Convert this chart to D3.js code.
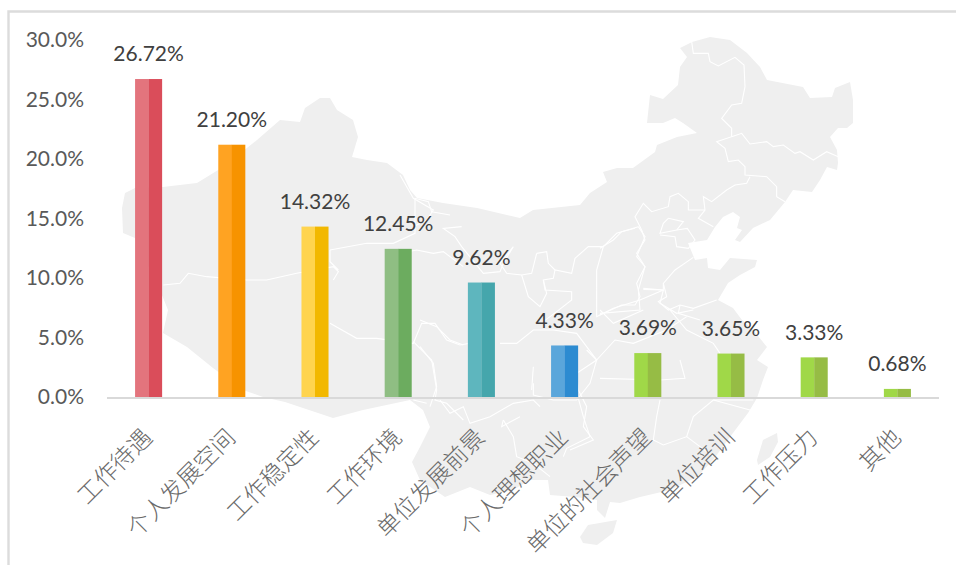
<!DOCTYPE html>
<html><head><meta charset="utf-8">
<script src="https://cdn.jsdelivr.net/npm/d3@7/dist/d3.min.js"></script>
<style>html,body{margin:0;padding:0;background:#fff}svg{display:block}</style></head>
<body><svg id="c" width="956" height="565"></svg>
<script>
const categories=["工作待遇","个人发展空间","工作稳定性","工作环境","单位发展前景","个人理想职业","单位的社会声望","单位培训","工作压力","其他"];
const values=[26.72,21.20,14.32,12.45,9.62,4.33,3.69,3.65,3.33,0.68];
const lightColors=["#E3747D","#FFA322","#FFD44F","#8FBE83","#5EB6BE","#5AA6DB","#A0D848","#A0D848","#A0D848","#A0D848"];
const darkColors=["#DA4D5A","#F79300","#F2B800","#6CAC5F","#45A6AC","#2C8BD1","#96BC45","#96BC45","#96BC45","#96BC45"];
const yTicks=[0,5,10,15,20,25,30];

// decorative backdrop: hand-traced outline of the map, in picture pixels
const mapMainland=[[122,208],[125,193],[135,188],[163,187],[197,183],[223,167],[257,140],[280,120],[300,122],[305,108],[320,98],[330,98],[337,110],[353,120],[358,137],[352,157],[367,160],[387,163],[403,175],[410,190],[417,198],[443,203],[477,208],[520,218],[533,210],[580,205],[590,193],[607,182],[603,172],[617,168],[633,168],[655,152],[657,145],[677,137],[697,133],[683,123],[675,118],[663,123],[647,123],[650,95],[663,99],[678,85],[680,67],[687,57],[680,48],[692,42],[710,37],[730,40],[747,53],[760,67],[767,80],[803,87],[810,98],[832,97],[835,88],[850,82],[853,100],[853,123],[847,128],[838,128],[830,137],[837,150],[838,163],[837,170],[827,167],[820,180],[812,192],[793,190],[785,202],[770,220],[753,228],[740,242],[735,240],[742,230],[737,228],[740,217],[733,212],[723,217],[715,227],[707,240],[688,243],[695,260],[707,258],[708,268],[720,270],[730,258],[757,260],[755,267],[740,275],[728,283],[718,300],[733,308],[742,320],[753,330],[767,347],[757,360],[768,367],[763,380],[757,398],[748,413],[733,433],[713,460],[697,477],[670,490],[640,497],[620,503],[610,502],[605,518],[597,510],[597,500],[575,497],[550,495],[548,480],[530,480],[513,490],[490,495],[470,487],[445,497],[420,480],[412,462],[420,447],[430,427],[423,410],[410,400],[363,410],[333,418],[285,402],[263,397],[243,390],[213,368],[187,347],[163,333],[168,310],[160,290],[150,270],[135,238],[123,233]];
const mapHainan=[[580,537],[588,525],[617,520],[613,533],[597,545],[583,543]];
const mapTaiwan=[[757,460],[763,440],[777,433],[778,442],[770,457],[758,465]];
const borderSets=[
 {o:[600,20],lines:[
  [[275,65],[280,100],[325,100],[330,125],[355,138],[405,112],[432,135],[435,200],[425,250],[395,255],[365,295],[395,325],[395,350],[350,365],[375,385],[385,425],[415,420],[435,440],[435,465],[500,470],[530,500],[530,530],[555,545]],
  [[395,350],[425,340],[450,372],[500,365],[520,380],[550,375],[585,400],[600,395],[640,420],[680,395],[715,410]],
  [[450,470],[440,490],[405,495],[380,510],[335,545],[310,530],[315,570],[295,595],[340,620]],
  [[315,570],[265,570],[265,545],[235,520],[210,530],[205,560],[155,575],[130,550],[105,590],[125,630]],
  [[105,625],[65,635],[40,660],[0,685]],
  [[125,630],[135,660],[110,700],[135,740],[110,790],[120,830],[105,855],[65,855],[0,885]],
  [[205,595],[250,605],[230,630],[180,640],[190,610],[205,595]],
  [[230,630],[262,625],[285,660],[265,685],[230,680],[225,650],[180,645]],
  [[280,712],[225,750],[190,790],[190,810],[130,808]],
  [[190,790],[200,830],[175,845],[205,870],[240,855],[280,865],[350,840]],
  [[240,855],[235,880],[300,900]]
 ]},
 {o:[400,130],lines:[
  [[715,290],[650,310],[610,350],[565,350],[525,385],[515,430],[465,420],[460,445],[430,450],[435,480],[515,485],[515,510],[470,545],[430,575]],
  [[0,135],[40,205],[100,240],[80,270],[40,290]],
  [[185,290],[130,295],[165,320],[185,350],[250,430],[300,425],[310,400],[340,350],[300,400],[320,430],[365,435],[385,500],[420,530],[440,490],[430,450]],
  [[410,370],[440,365],[445,400],[465,420]],
  [[410,370],[395,430],[365,435]],
  [[610,350],[590,420],[590,560],[640,535],[720,510],[790,480],[730,475]],
  [[715,290],[735,320],[710,380],[735,410],[715,480],[720,540],[600,550]],
  [[790,480],[780,520],[830,550],[880,540]],
  [[0,370],[50,360],[100,370],[130,365],[190,410]]
 ]},
 {o:[100,80],lines:[
  [[190,615],[240,610],[265,580],[320,590],[440,600],[500,600],[590,580],[700,560],[715,575],[700,600]],
  [[690,510],[800,490],[880,490],[945,460],[945,355],[985,365],[995,395],[1050,405]],
  [[690,510],[690,545],[715,570]]
 ]},
 {o:[130,280],lines:[
  [[600,130],[680,175],[740,175],[850,190],[875,130],[915,130],[950,180],[990,195],[1050,185]],
  [[850,185],[905,240],[920,330],[915,360],[950,370],[1000,420]],
  [[850,360],[890,370]]
 ]},
 {o:[420,320],lines:[
  [[0,0],[50,20],[90,60],[130,75]],
  [[0,80],[40,130],[50,200],[30,260]],
  [[60,240],[90,280],[130,260],[150,310],[210,290],[280,250],[340,240],[360,260]],
  [[250,300],[280,350],[290,410],[340,430],[390,470]],
  [[340,190],[340,225],[400,240],[470,240],[510,190],[530,120],[500,90]],
  [[250,300],[245,320],[300,290]],
  [[475,235],[490,290],[510,350],[440,385],[430,410]]
 ]},
 {o:[500,310],lines:[
  [[0,100],[50,100],[100,60],[160,60],[230,70],[290,150],[230,190],[235,240],[260,290],[250,350],[280,390],[210,420]],
  [[290,150],[345,90],[400,100],[500,60],[560,20]],
  [[540,150],[555,205],[480,210],[300,205]],
  [[480,270],[470,320],[460,390],[490,405],[560,380],[580,320],[640,270],[760,270]],
  [[560,380],[640,440]],
  [[300,0],[340,40],[430,0]],
  [[510,0],[560,60],[640,100],[660,130]],
  [[100,170],[95,240]],
  [[640,270],[750,300]]
 ]}
];

const W=956,H=565,x0=107,x1=939,yZero=397,yTop=40;
const svg=d3.select("#c");
const x=d3.scaleBand().domain(categories).range([x0,x1]).paddingInner(0.675).paddingOuter(0.3375);
const y=d3.scaleLinear().domain([0,30]).range([yZero,yTop]);
const latin='Lato,"Open Sans",sans-serif';
const cjk='"Noto Sans CJK SC",sans-serif';

// chart frame
svg.append("path").attr("d",`M8.5,${H}V11.5H${W}`).attr("fill","none").attr("stroke","#DCDCDC").attr("stroke-width",2.4);

// backdrop map
const mapLine=d3.line().curve(d3.curveLinear);
const map=svg.append("g");
[mapMainland,mapHainan,mapTaiwan].forEach(p=>map.append("path").attr("d",mapLine(p)+"Z").attr("fill","#EFEFEF"));
borderSets.forEach(s=>{
  const g=map.append("g").attr("transform",`translate(${s.o[0]},${s.o[1]}) scale(${1/3})`);
  s.lines.forEach(l=>g.append("path").attr("d",mapLine(l)).attr("fill","none").attr("stroke","#fff").attr("stroke-width",3.3));
});

// bars: each one is a light left half and a dark right half
const bars=svg.append("g").selectAll("g").data(categories).join("g");
bars.append("rect").attr("x",d=>x(d)).attr("width",x.bandwidth()/2+0.2)
  .attr("y",(d,i)=>y(values[i])).attr("height",(d,i)=>yZero-y(values[i])).attr("fill",(d,i)=>lightColors[i]);
bars.append("rect").attr("x",d=>x(d)+x.bandwidth()/2).attr("width",x.bandwidth()/2)
  .attr("y",(d,i)=>y(values[i])).attr("height",(d,i)=>yZero-y(values[i])).attr("fill",(d,i)=>darkColors[i]);

// data labels
svg.append("g").selectAll("text").data(values).join("text")
  .attr("x",(d,i)=>x(categories[i])+x.bandwidth()/2).attr("y",d=>y(d)-25).attr("dy","0.35em")
  .attr("text-anchor","middle").attr("font-family",latin).attr("font-size",21).attr("fill","#404040")
  .text(d=>d.toFixed(2)+"%");

// y axis
const yAxis=d3.axisLeft(y).tickValues(yTicks).tickSize(0).tickPadding(0).tickFormat(d=>d.toFixed(1)+"%");
const gy=svg.append("g").attr("transform","translate(84,0)").call(yAxis);
gy.select(".domain").remove();
gy.selectAll("text").attr("font-family",latin).attr("font-size",21).attr("fill","#595959");

// x axis
const xAxis=d3.axisBottom(x).tickSize(0).tickPadding(0);
const gx=svg.append("g").attr("transform",`translate(0,${yZero})`).call(xAxis);
gx.select(".domain").attr("stroke","#D9D9D9").attr("stroke-width",2).attr("d",`M${x0},1H${x1}`);
gx.selectAll("text").attr("font-family",cjk).attr("font-weight",300).attr("font-size",23.5).attr("fill","#6a6a6a")
  .attr("text-anchor","end").attr("y",0).attr("dy",0)
  .attr("transform","translate(5,42) rotate(-45)");
</script></body></html>
